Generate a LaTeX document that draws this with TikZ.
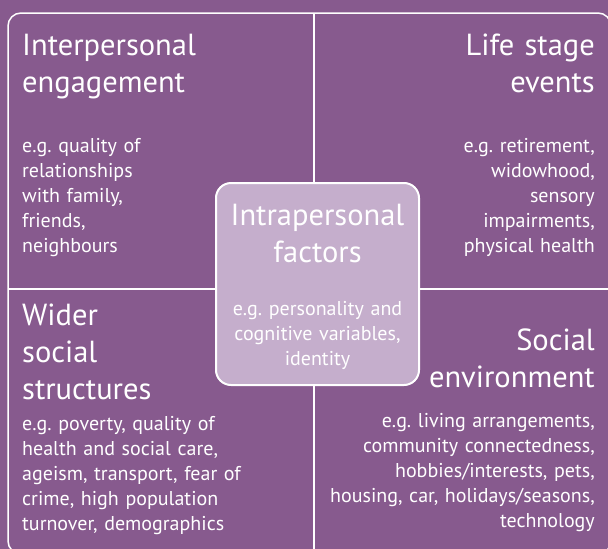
\documentclass[tikz,border=0pt]{standalone}
\usepackage{fontspec}
\setmainfont{PT Sans}
\frenchspacing
\definecolor{plum}{HTML}{875A8E}
\definecolor{lilac}{HTML}{C5AECC}
\tikzstyle{frame}=[draw=white, line width=1.5pt, rounded corners=13pt]
\tikzstyle{divider}=[draw=white, line width=1.5pt]
\tikzstyle{core}=[rectangle, draw=white, line width=2pt, fill=lilac, rounded corners=15pt, minimum width=203pt, minimum height=202pt, inner sep=0pt]
\tikzstyle{head}=[inner sep=0pt, text=white, font=\fontsize{30.5}{37}\selectfont]
\tikzstyle{body}=[inner sep=0pt, text=white, font=\fontsize{20}{25}\selectfont]

\begin{document}
\begin{tikzpicture}[x=1pt,y=-1pt]
	%The background and outer frame
	\fill[plum] (0,0) rectangle (608,549);
	\useasboundingbox (0,0) rectangle (608,549);
	\begin{scope}
		\clip (0,0) rectangle (608,549);
		\draw[frame] (8,13) rectangle (611,554);
	\end{scope}
	
	%The quadrant dividers
	\coordinate (top) at (314,13);
	\coordinate (bottom) at (314,549);
	\coordinate (left) at (8,289);
	\coordinate (right) at (608,289);
	\node[core] (core) at (317.5,284) {};
	\draw[divider] (top) -- (top |- core.north);
	\draw[divider] (bottom |- core.south) -- (bottom);
	\draw[divider] (left) -- (left -| core.west);
	\draw[divider] (core.east |- right) -- (right);
	
	%Top left
	\node[head, anchor=base west, align=left, text width=260pt] (inter) at (22,55) {Interpersonal\\engagement};
	\node[body, anchor=base west, align=left, text width=260pt] (inter-eg) at (22,152) {e.g. quality of\\relationships\\with family,\\friends,\\neighbours};
	
	%Top right
	\node[head, anchor=base east, align=right, text width=260pt] (life) at (595,55) {Life stage\\events};
	\node[body, anchor=base east, align=right, text width=260pt] (life-eg) at (595,152) {e.g. retirement,\\widowhood,\\sensory\\impairments,\\physical health};
	
	%Bottom left
	\node[head, anchor=base west, align=left, text width=260pt] (wider) at (22,325) {Wider\\social\\structures};
	\node[body, anchor=base west, align=left, text width=280pt] (wider-eg) at (22,430) {e.g. poverty, quality of\\health and social care,\\ageism, transport, fear of\\crime, high population\\turnover, demographics};
	
	%Bottom right
	\node[head, anchor=base east, align=right, text width=260pt] (social) at (595,350) {Social\\environment};
	\node[body, anchor=base east, align=right, text width=280pt] (social-eg) at (595,427) {e.g. living arrangements,\\community connectedness,\\hobbies/interests, pets,\\housing, car, holidays/seasons,\\technology};
	
	%The centre
	\node[head, anchor=base, align=center, text width=200pt] (intra) at (317.5,225) {Intrapersonal\\factors};
	\node[body, anchor=base, align=center, text width=200pt] (intra-eg) at (317.5,315) {e.g. personality and\\cognitive variables,\\identity};
\end{tikzpicture}
\end{document}
